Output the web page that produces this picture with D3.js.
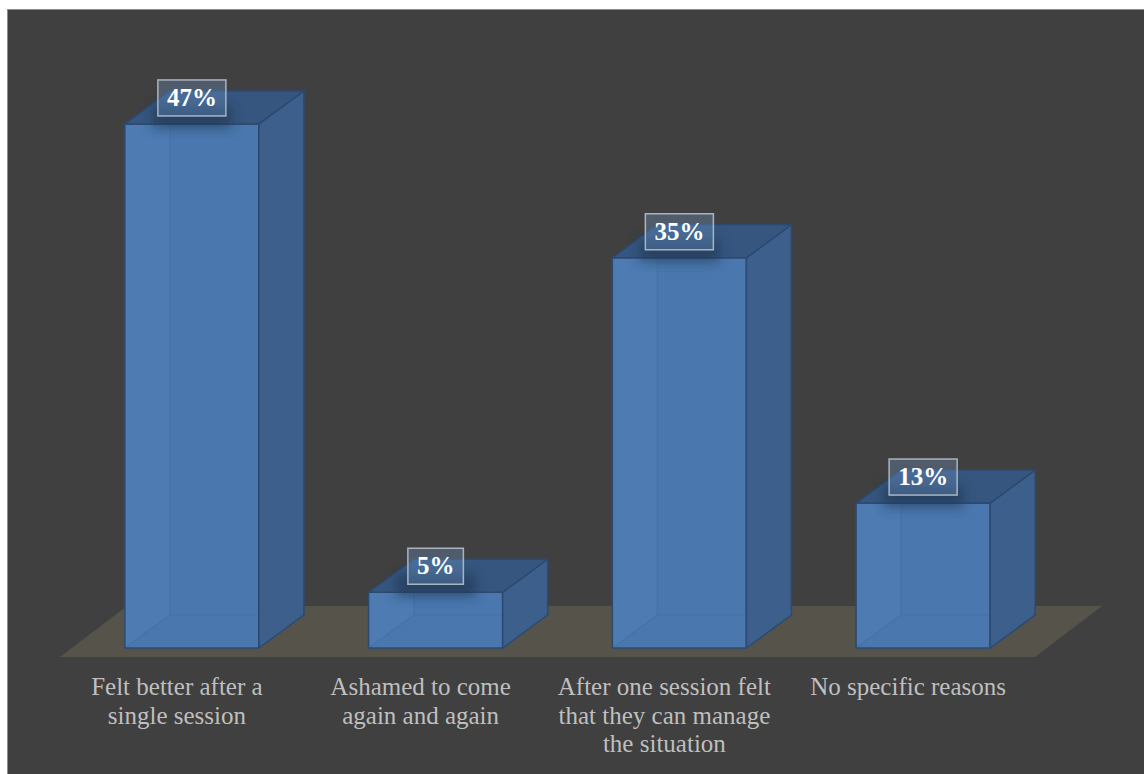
<!DOCTYPE html>
<html>
<head>
<meta charset="utf-8">
<script src="https://cdn.jsdelivr.net/npm/d3@7"></script>
<style>
  body { margin: 0; background: #fff; }
  svg { display: block; }
</style>
</head>
<body>
<div id="chart"></div>
<script>
// data
const categories = [
  "Felt better after a single session",
  "Ashamed to come again and again",
  "After one session felt that they can manage the situation",
  "No specific reasons"
];
const values = [47, 5, 35, 13];
const valueLabels = ["47%", "5%", "35%", "13%"];

const W = 1144, H = 774;
const base = 648;          // front bottom of bars
const dx = 45, dy = -33;   // bar depth
const floorFront = 657, floorBack = 606;
const floorSlope = 67 / 51;

const svg = d3.select("#chart").append("svg")
  .attr("width", W)
  .attr("height", H);

// chart area
svg.append("rect")
  .attr("x", 7.5).attr("y", 9.5)
  .attr("width", W).attr("height", H)
  .attr("fill", "#404040")
  .attr("stroke", "#8c8c8c")
  .attr("stroke-width", 1);

const x = d3.scaleBand()
  .domain(categories)
  .range([70, 1045])
  .paddingInner(0.45)
  .paddingOuter(0.225);

const y = d3.scaleLinear()
  .domain([0, 50])
  .range([base, base - 50 * 11.15]);

// floor
const fl = [
  [60, floorFront], [1035, floorFront],
  [1035 + (floorFront - floorBack) * floorSlope, floorBack],
  [60 + (floorFront - floorBack) * floorSlope, floorBack]
];
svg.append("polygon")
  .attr("points", fl.map(p => p.join(",")).join(" "))
  .attr("fill", "#56534b");

const defs = svg.append("defs");
const blur = defs.append("filter").attr("id", "soft")
  .attr("x", "-50%").attr("y", "-50%").attr("width", "200%").attr("height", "200%");
blur.append("feGaussianBlur").attr("stdDeviation", 6);

const edge = "#2c4a70";
const bars = svg.selectAll(".bar")
  .data(values)
  .enter()
  .append("g")
  .attr("class", "bar");

bars.each(function(v, i) {
  const g = d3.select(this);
  const x0 = x(categories[i]), w = x.bandwidth();
  const top = y(v);
  const pts = a => a.map(p => p.join(",")).join(" ");

  // front
  g.append("rect")
    .attr("x", x0).attr("y", top)
    .attr("width", w).attr("height", base - top)
    .attr("fill", "#4a77ae");

  // hidden left face seen through the front
  g.append("polygon")
    .attr("points", pts([[x0, top], [x0 + dx, top + dy], [x0 + dx, base + dy], [x0, base]]))
    .attr("fill", "#5a8ac4").attr("fill-opacity", 0.2);

  // hidden edges
  g.append("path")
    .attr("d", `M${x0 + dx},${top + dy}V${base + dy}H${x0 + w + dx}M${x0},${base}L${x0 + dx},${base + dy}`)
    .attr("fill", "none")
    .attr("stroke", "#3c64a0")
    .attr("stroke-opacity", 0.3)
    .attr("stroke-width", 1.2);

  // front outline
  g.append("rect")
    .attr("x", x0).attr("y", top)
    .attr("width", w).attr("height", base - top)
    .attr("fill", "none")
    .attr("stroke", edge).attr("stroke-width", 1.5);

  // side
  g.append("polygon")
    .attr("points", pts([[x0 + w, top], [x0 + w + dx, top + dy], [x0 + w + dx, base + dy], [x0 + w, base]]))
    .attr("fill", "#3d5f8b")
    .attr("stroke", edge).attr("stroke-width", 1.5)
    .attr("stroke-linejoin", "round");

  // top
  g.append("polygon")
    .attr("points", pts([[x0, top], [x0 + dx, top + dy], [x0 + w + dx, top + dy], [x0 + w, top]]))
    .attr("fill", "#36567f")
    .attr("stroke", edge).attr("stroke-width", 1.5)
    .attr("stroke-linejoin", "round");
});

// value labels
bars.each(function(v, i) {
  const g = d3.select(this);
  const cx = x(categories[i]) + x.bandwidth() / 2;
  const cy = y(v) - 26;

  g.append("rect")
    .attr("x", cx - 40).attr("y", cy + 8)
    .attr("width", 80).attr("height", 22)
    .attr("fill", "#1f3450").attr("opacity", 0.6)
    .attr("filter", "url(#soft)");

  const t = g.append("text")
    .attr("x", cx).attr("y", cy + 8)
    .attr("text-anchor", "middle")
    .attr("font-family", "'Liberation Serif', serif")
    .attr("font-weight", "bold")
    .attr("font-size", 25)
    .attr("fill", "#ffffff")
    .text(valueLabels[i]);
  const tw = t.node().getComputedTextLength();
  g.insert("rect", "text")
    .attr("x", cx - tw / 2 - 9).attr("y", cy - 18)
    .attr("width", tw + 18).attr("height", 36)
    .attr("fill", "rgba(120,160,210,0.3)")
    .attr("stroke", "#aab4c0")
    .attr("stroke-width", 1.5);
});

// category labels
const wrapWidth = 225;
svg.selectAll(".cat")
  .data(categories)
  .enter()
  .append("text")
  .attr("class", "cat")
  .attr("text-anchor", "middle")
  .attr("font-family", "'Liberation Serif', serif")
  .attr("font-size", 25)
  .attr("fill", "#bfbfbf")
  .each(function(d) {
    const el = d3.select(this);
    const cx = x(d) + x.bandwidth() / 2 - 15;
    const words = d.split(" ");
    let line = [], lineNo = 0;
    let tspan = el.append("tspan").attr("x", cx).attr("y", 695);
    words.forEach(wd => {
      line.push(wd);
      tspan.text(line.join(" "));
      if (tspan.node().getComputedTextLength() > wrapWidth && line.length > 1) {
        line.pop();
        tspan.text(line.join(" "));
        line = [wd];
        lineNo++;
        tspan = el.append("tspan").attr("x", cx).attr("y", 695 + lineNo * 28.5).text(wd);
      }
    });
  });
</script>
</body>
</html>
